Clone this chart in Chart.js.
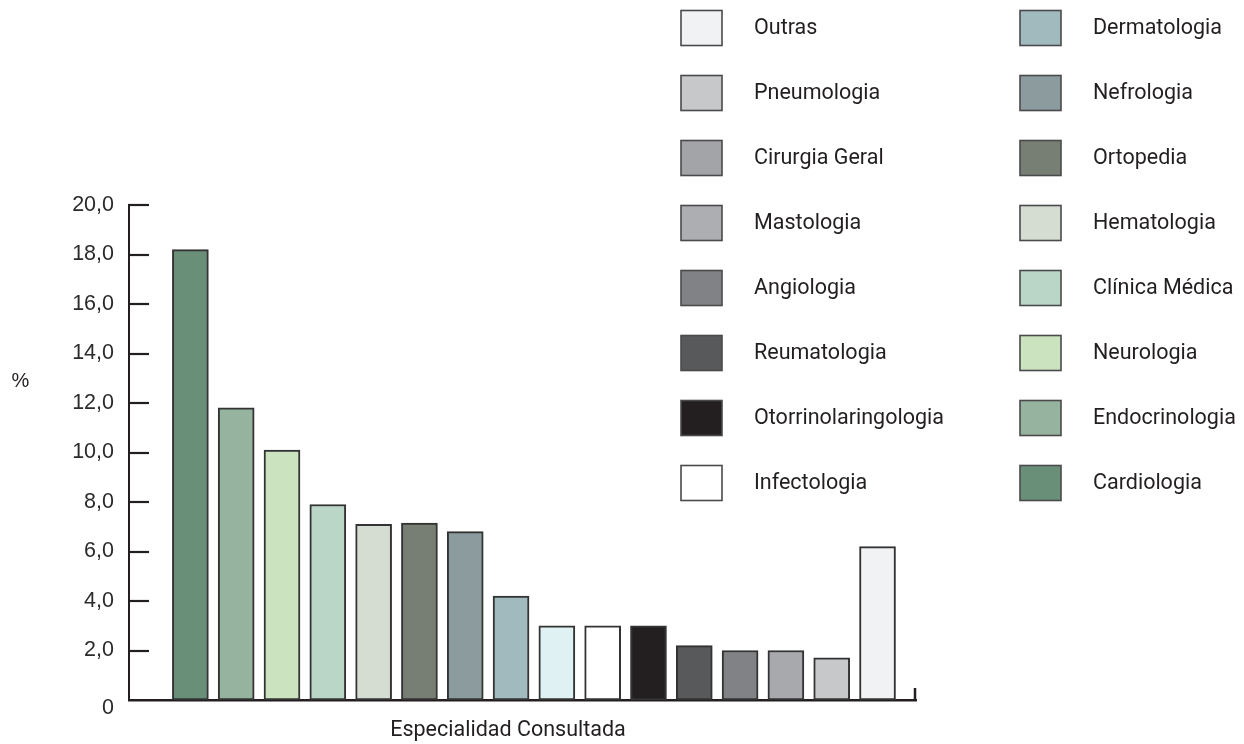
<!DOCTYPE html>
<html>
<head>
<meta charset="utf-8">
<script src="https://cdn.jsdelivr.net/npm/chart.js@4.4.1/dist/chart.umd.min.js"></script>
<style>
  html, body { margin: 0; padding: 0; background: #ffffff; }
  #wrap { position: relative; width: 1244px; height: 744px; }
</style>
</head>
<body>
<div id="wrap"><canvas id="c" width="1244" height="744"></canvas></div>
<script>
// Share of consultations per specialty (%), in bar order
const categories = [
  'Cardiologia', 'Endocrinologia', 'Neurologia', 'Clínica Médica',
  'Hematologia', 'Ortopedia', 'Nefrologia', 'Dermatologia',
  'Infectologia', 'Cirurgia Geral', 'Otorrinolaringologia', 'Reumatologia',
  'Angiologia', 'Mastologia', 'Pneumologia', 'Outras'
];
const percentages = [18.2, 11.8, 10.1, 7.9, 7.1, 7.15, 6.8, 4.2, 3.0, 3.0, 3.0, 2.2, 2.0, 2.0, 1.7, 6.2];
const barColors = [
  '#6a8f79', '#96b3a0', '#cce3bf', '#bad6c6',
  '#d5ddd2', '#777e74', '#8c9b9e', '#a0babe',
  '#e0f1f4', '#ffffff', '#231f20', '#58595b',
  '#808285', '#a7a9ac', '#c7c8ca', '#f1f2f4'
];

// Legend entries (two columns of eight)
const legendNames = [
  'Outras', 'Pneumologia', 'Cirurgia Geral', 'Mastologia',
  'Angiologia', 'Reumatologia', 'Otorrinolaringologia', 'Infectologia',
  'Dermatologia', 'Nefrologia', 'Ortopedia', 'Hematologia',
  'Clínica Médica', 'Neurologia', 'Endocrinologia', 'Cardiologia'
];
const legendColors = [
  '#f1f2f4', '#c7c8ca', '#a3a4a7', '#adaeb1',
  '#808285', '#58595b', '#231f20', '#ffffff',
  '#a0babe', '#8c9b9e', '#777e74', '#d5ddd2',
  '#bad6c6', '#cce3bf', '#96b3a0', '#6a8f79'
];

const yTickValues = [0, 2, 4, 6, 8, 10, 12, 14, 16, 18, 20];
const yAxisTitle = '%';
const xAxisTitle = 'Especialidad Consultada';

const INK = '#231f20';
const LABEL_FONT = 'Roboto, "Liberation Sans", sans-serif';

// Inward tick marks on the value axis plus the small closing tick on the category axis
const axisDecor = {
  id: 'axisDecor',
  afterDatasetsDraw(chart) {
    const { ctx, chartArea: a } = chart;
    const y = chart.scales.y;
    ctx.save();
    ctx.strokeStyle = INK;
    ctx.lineWidth = 2.2;
    yTickValues.forEach(v => {
      if (v === 0) return;
      const py = Math.round(y.getPixelForValue(v));
      ctx.beginPath();
      ctx.moveTo(a.left - 1, py);
      ctx.lineTo(a.left + 20, py);
      ctx.stroke();
    });
    ctx.lineWidth = 2.5;
    ctx.beginPath();
    ctx.moveTo(a.right - 1, a.bottom);
    ctx.lineTo(a.right - 1, a.bottom - 12);
    ctx.stroke();
    ctx.restore();
  }
};

// Axis titles and the two-column legend
const annotations = {
  id: 'annotations',
  afterDraw(chart) {
    const { ctx } = chart;
    ctx.save();
    ctx.fillStyle = INK;
    ctx.textBaseline = 'middle';

    ctx.font = '20px "Liberation Sans", Arial, sans-serif';
    ctx.textAlign = 'center';
    ctx.fillText(yAxisTitle, 20.5, 381);

    ctx.font = '21.5px ' + LABEL_FONT;
    ctx.fillText(xAxisTitle, 508, 731);

    ctx.textAlign = 'left';
    legendNames.forEach((name, k) => {
      const col = k < 8 ? 0 : 1;
      const row = k % 8;
      const bx = col === 0 ? 681 : 1020;
      const by = 10.5 + row * 65;
      ctx.fillStyle = legendColors[k];
      ctx.fillRect(bx, by, 41, 35);
      ctx.strokeStyle = '#4a4a4c';
      ctx.lineWidth = 1.6;
      ctx.strokeRect(bx, by, 41, 35);
      ctx.fillStyle = INK;
      ctx.fillText(name, bx + 73, by + 18);
    });
    ctx.restore();
  }
};

new Chart(document.getElementById('c'), {
  type: 'bar',
  data: {
    datasets: [{
      label: 'Especialidad Consultada',
      data: percentages.map((v, i) => ({ x: i, y: v })),
      backgroundColor: barColors,
      borderColor: '#333333',
      borderWidth: 2,
      borderSkipped: false,
      barThickness: 36
    }]
  },
  options: {
    responsive: false,
    animation: false,
    devicePixelRatio: 1,
    layout: { padding: { top: 205, right: 328, bottom: 0, left: 0 } },
    plugins: {
      legend: { display: false },
      tooltip: { enabled: false }
    },
    scales: {
      x: {
        type: 'linear',
        offset: false,
        min: -1.34,
        max: 15.84,
        ticks: { display: false },
        grid: { display: false, drawTicks: false, offset: false },
        border: { display: true, color: INK, width: 2.5 },
        afterFit(s) { s.height = 44; }
      },
      y: {
        min: 0,
        max: 20,
        afterBuildTicks(s) { s.ticks = yTickValues.map(v => ({ value: v })); },
        ticks: {
          padding: 15,
          color: '#2b2b2b',
          font: { family: '"Liberation Sans", Arial, sans-serif', size: 21.5, lineHeight: 0.75 },
          callback: v => v === 0 ? ['', '0'] : v.toFixed(1).replace('.', ',')
        },
        grid: { display: false, drawTicks: false },
        border: { display: true, color: INK, width: 2 },
        afterFit(s) { s.width = 129; }
      }
    }
  },
  plugins: [axisDecor, annotations]
});
</script>
</body>
</html>
